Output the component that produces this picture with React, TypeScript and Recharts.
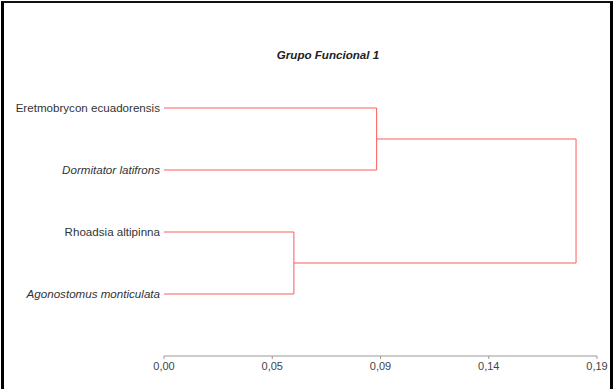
import React from "react";
import { ScatterChart, Scatter, XAxis, YAxis } from "recharts";

const species = [
  "Eretmobrycon ecuadorensis",
  "Dormitator latifrons",
  "Rhoadsia altipinna",
  "Agonostomus monticulata",
];
const italicSpecies = ["Dormitator latifrons", "Agonostomus monticulata"];
const leafIndex = [0, 1, 2, 3];

const xTicks = [0, 0.0475, 0.095, 0.1425, 0.19];
const xTickLabels = ["0,00", "0,05", "0,09", "0,14", "0,19"];

// merge heights
const mergeA = 0.0933; // Eretmobrycon + Dormitator
const mergeB = 0.057; // Rhoadsia + Agonostomus
const mergeRoot = 0.1808;

const clusterA = [
  { x: 0, y: 0 },
  { x: mergeA, y: 0 },
  { x: mergeA, y: 1 },
  { x: 0, y: 1 },
];
const clusterB = [
  { x: 0, y: 2 },
  { x: mergeB, y: 2 },
  { x: mergeB, y: 3 },
  { x: 0, y: 3 },
];
const clusterRoot = [
  { x: mergeA, y: 0.5 },
  { x: mergeRoot, y: 0.5 },
  { x: mergeRoot, y: 2.5 },
  { x: mergeB, y: 2.5 },
];

const LINE = "#ff5a5a";

const YTick = (props: any) => {
  const { x, y, payload } = props;
  const name = species[payload.value];
  return (
    <text
      x={x}
      y={y}
      dy={4}
      textAnchor="end"
      fill="#333"
      fontSize={11.6}
      fontFamily="Arial, 'Liberation Sans', sans-serif"
      fontStyle={italicSpecies.includes(name) ? "italic" : "normal"}
    >
      {name}
    </text>
  );
};

const XTick = (props: any) => {
  const { x, y, payload, index } = props;
  return (
    <text
      x={x}
      y={y}
      dy={9}
      textAnchor="middle"
      fill="#444"
      fontSize={11}
      fontFamily="Arial, 'Liberation Sans', sans-serif"
    >
      {xTickLabels[index]}
    </text>
  );
};

const noShape = () => null;

export default function App() {
  return (
    <div style={{ position: "relative", width: 613, height: 389, background: "#fff" }}>
      <style>{`body{margin:0}`}</style>
      <div
        style={{
          position: "absolute",
          left: 1,
          top: 1,
          width: 606,
          height: 388,
          borderLeft: "3px solid #000",
          borderTop: "2px solid #111",
          borderRight: "3px solid #000",
          pointerEvents: "none",
          zIndex: 2,
        }}
      />
      <div
        style={{
          position: "absolute",
          left: 228,
          top: 48,
          width: 200,
          textAlign: "center",
          fontFamily: "Arial, 'Liberation Sans', sans-serif",
          fontSize: 11.6,
          fontWeight: "bold",
          fontStyle: "italic",
          color: "#222",
        }}
      >
        Grupo Funcional 1
      </div>
      <ScatterChart
        width={613}
        height={389}
        margin={{ top: 77, right: 16, bottom: 3, left: 4 }}
      >
        <XAxis
          type="number"
          dataKey="x"
          domain={[0, 0.19]}
          ticks={xTicks}
          tick={<XTick />}
          tickSize={3}
          height={30}
          axisLine={{ stroke: "#999" }}
          tickLine={{ stroke: "#999" }}
          allowDataOverflow
        />
        <YAxis
          type="number"
          dataKey="y"
          domain={[-0.5, 4]}
          reversed
          ticks={leafIndex}
          tick={<YTick />}
          tickSize={0}
          tickMargin={4}
          width={160}
          axisLine={false}
          tickLine={false}
          allowDataOverflow
        />
        <Scatter
          data={clusterA}
          line={{ stroke: LINE, strokeWidth: 1 }}
          shape={noShape}
          isAnimationActive={false}
        />
        <Scatter
          data={clusterB}
          line={{ stroke: LINE, strokeWidth: 1 }}
          shape={noShape}
          isAnimationActive={false}
        />
        <Scatter
          data={clusterRoot}
          line={{ stroke: LINE, strokeWidth: 1 }}
          shape={noShape}
          isAnimationActive={false}
        />
      </ScatterChart>
    </div>
  );
}
